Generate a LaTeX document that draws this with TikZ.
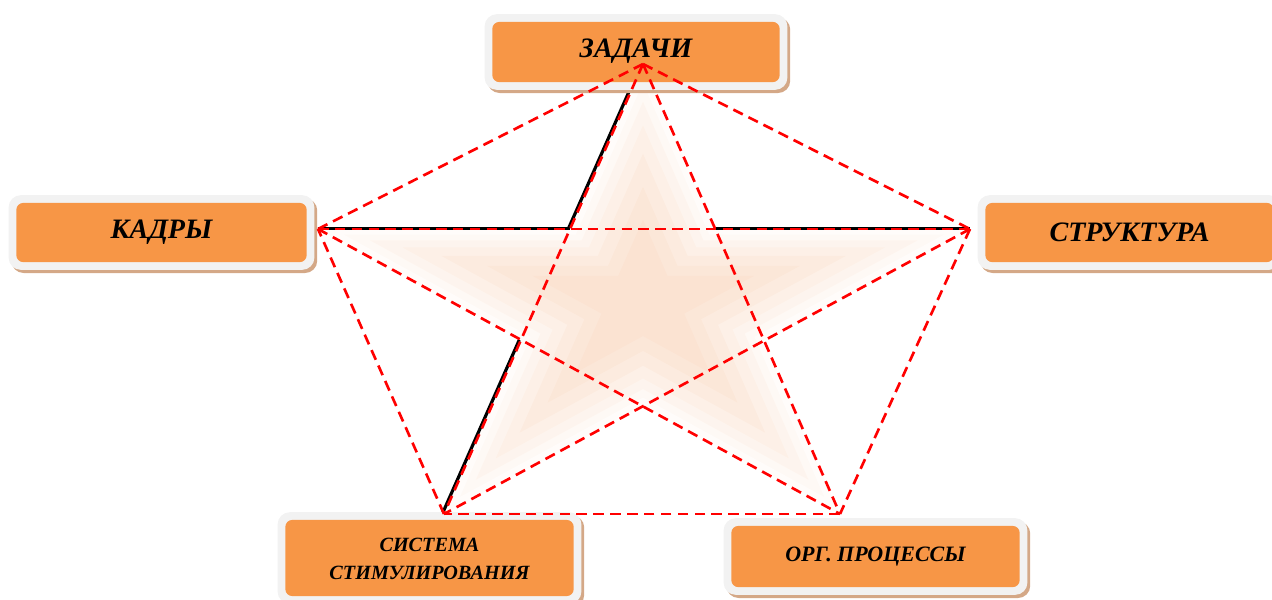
\documentclass[tikz,border=0pt]{standalone}
\usepackage{fontspec}
\setmainfont{Liberation Serif}
\usetikzlibrary{shadows}
\definecolor{boxorange}{HTML}{F79646}
\definecolor{boxgray}{HTML}{F2F2F2}
\definecolor{boxtan}{HTML}{D4A887}
\definecolor{glow}{HTML}{F8CFB2}
\definecolor{dashred}{HTML}{FF0000}
\tikzset{
  box/.style={fill=boxgray, rounded corners=7pt, inner sep=0pt,
    drop shadow={shadow xshift=1.6pt, shadow yshift=-1.8pt, fill=boxtan, opacity=1},
    path picture={\fill[boxorange, rounded corners=4pt]
      ([shift={(4.4pt,4.4pt)}]path picture bounding box.south west) rectangle
      ([shift={(-4.4pt,-4.4pt)}]path picture bounding box.north east);},
    align=center, text=black},
  bigtxt/.style={font=\fontsize{16}{19}\selectfont\bfseries\itshape},
  smalltxt/.style={font=\fontsize{11.5}{16}\selectfont\bfseries\itshape},
  midtxt/.style={font=\fontsize{12.5}{16}\selectfont\bfseries\itshape},
  reddash/.style={draw=dashred, line width=1.5pt, dash pattern=on 6pt off 3.6pt},
  blackedge/.style={draw=black, line width=1.8pt},
}
\def\starpath{(643,64) -- (715,229) -- (970,229) -- (764,340) -- (840,514) -- (643,406) -- (444,514) -- (521,340) -- (318,229) -- (570,229) -- cycle}
\begin{document}
\begin{tikzpicture}[x=0.02cm, y=-0.02cm]
\useasboundingbox (0,0) rectangle (1272,599);
% vertices
\coordinate (pT) at (643,64);
\coordinate (pL) at (318,229);
\coordinate (pR) at (970,229);
\coordinate (pBL) at (444,514);
\coordinate (pBR) at (840,514);
% inner star vertices
\coordinate (iA) at (570,229);
\coordinate (iB) at (715,229);
\coordinate (iC) at (521,340);
% glow
\foreach \s/\o in {1.0/0.06,0.92/0.08,0.84/0.1,0.74/0.12,0.62/0.14,0.48/0.16,0.34/0.16}{
  \fill[glow, opacity=\o, scale around={\s:(643,300)}] \starpath;
}
% black star edges
\draw[blackedge] ([xshift=-1]pT) -- ([xshift=-1]iA);
\draw[blackedge] ([yshift=0.5]pL) -- ([yshift=0.5]iA);
\draw[blackedge] ([yshift=0.5]iB) -- ([yshift=0.5]pR);
\draw[blackedge] ([xshift=-1]iC) -- ([xshift=-1]pBL);
% boxes
\node[box, minimum width=304*0.567pt, minimum height=76*0.567pt] (zad) at (636,52) {};
\node[bigtxt] (zadt) at (636,51) {ЗАДАЧИ};
\node[box, minimum width=307*0.567pt, minimum height=75*0.567pt] (kad) at (161.5,232.5) {};
\node[bigtxt] (kadt) at (161.5,232.5) {КАДРЫ};
\node[box, minimum width=305*0.567pt, minimum height=75*0.567pt] (str) at (1129.5,232.5) {};
\node[bigtxt] (strt) at (1129.5,232.5) {СТРУКТУРА};
\node[box, minimum width=305*0.567pt, minimum height=92*0.567pt] (sys) at (429.5,558) {};
\node[smalltxt, align=center] (syst) at (429.5,559) {СИСТЕМА\\СТИМУЛИРОВАНИЯ};
\node[box, minimum width=305*0.567pt, minimum height=77*0.567pt] (org) at (875.5,556.5) {};
\node[midtxt] (orgt) at (875.5,556.5) {ОРГ. ПРОЦЕССЫ};
% red dashed lines
\draw[reddash] (pT) -- (pR);
\draw[reddash] (pR) -- (pBR);
\draw[reddash] (pBR) -- (pBL);
\draw[reddash] (pBL) -- (pL);
\draw[reddash] (pL) -- (pT);
\draw[reddash] (pT) -- (pBL);
\draw[reddash] (pT) -- (pBR);
\draw[reddash] (pL) -- (pR);
\draw[reddash] (pL) -- (pBR);
\draw[reddash] (pR) -- (pBL);
\end{tikzpicture}
\end{document}
